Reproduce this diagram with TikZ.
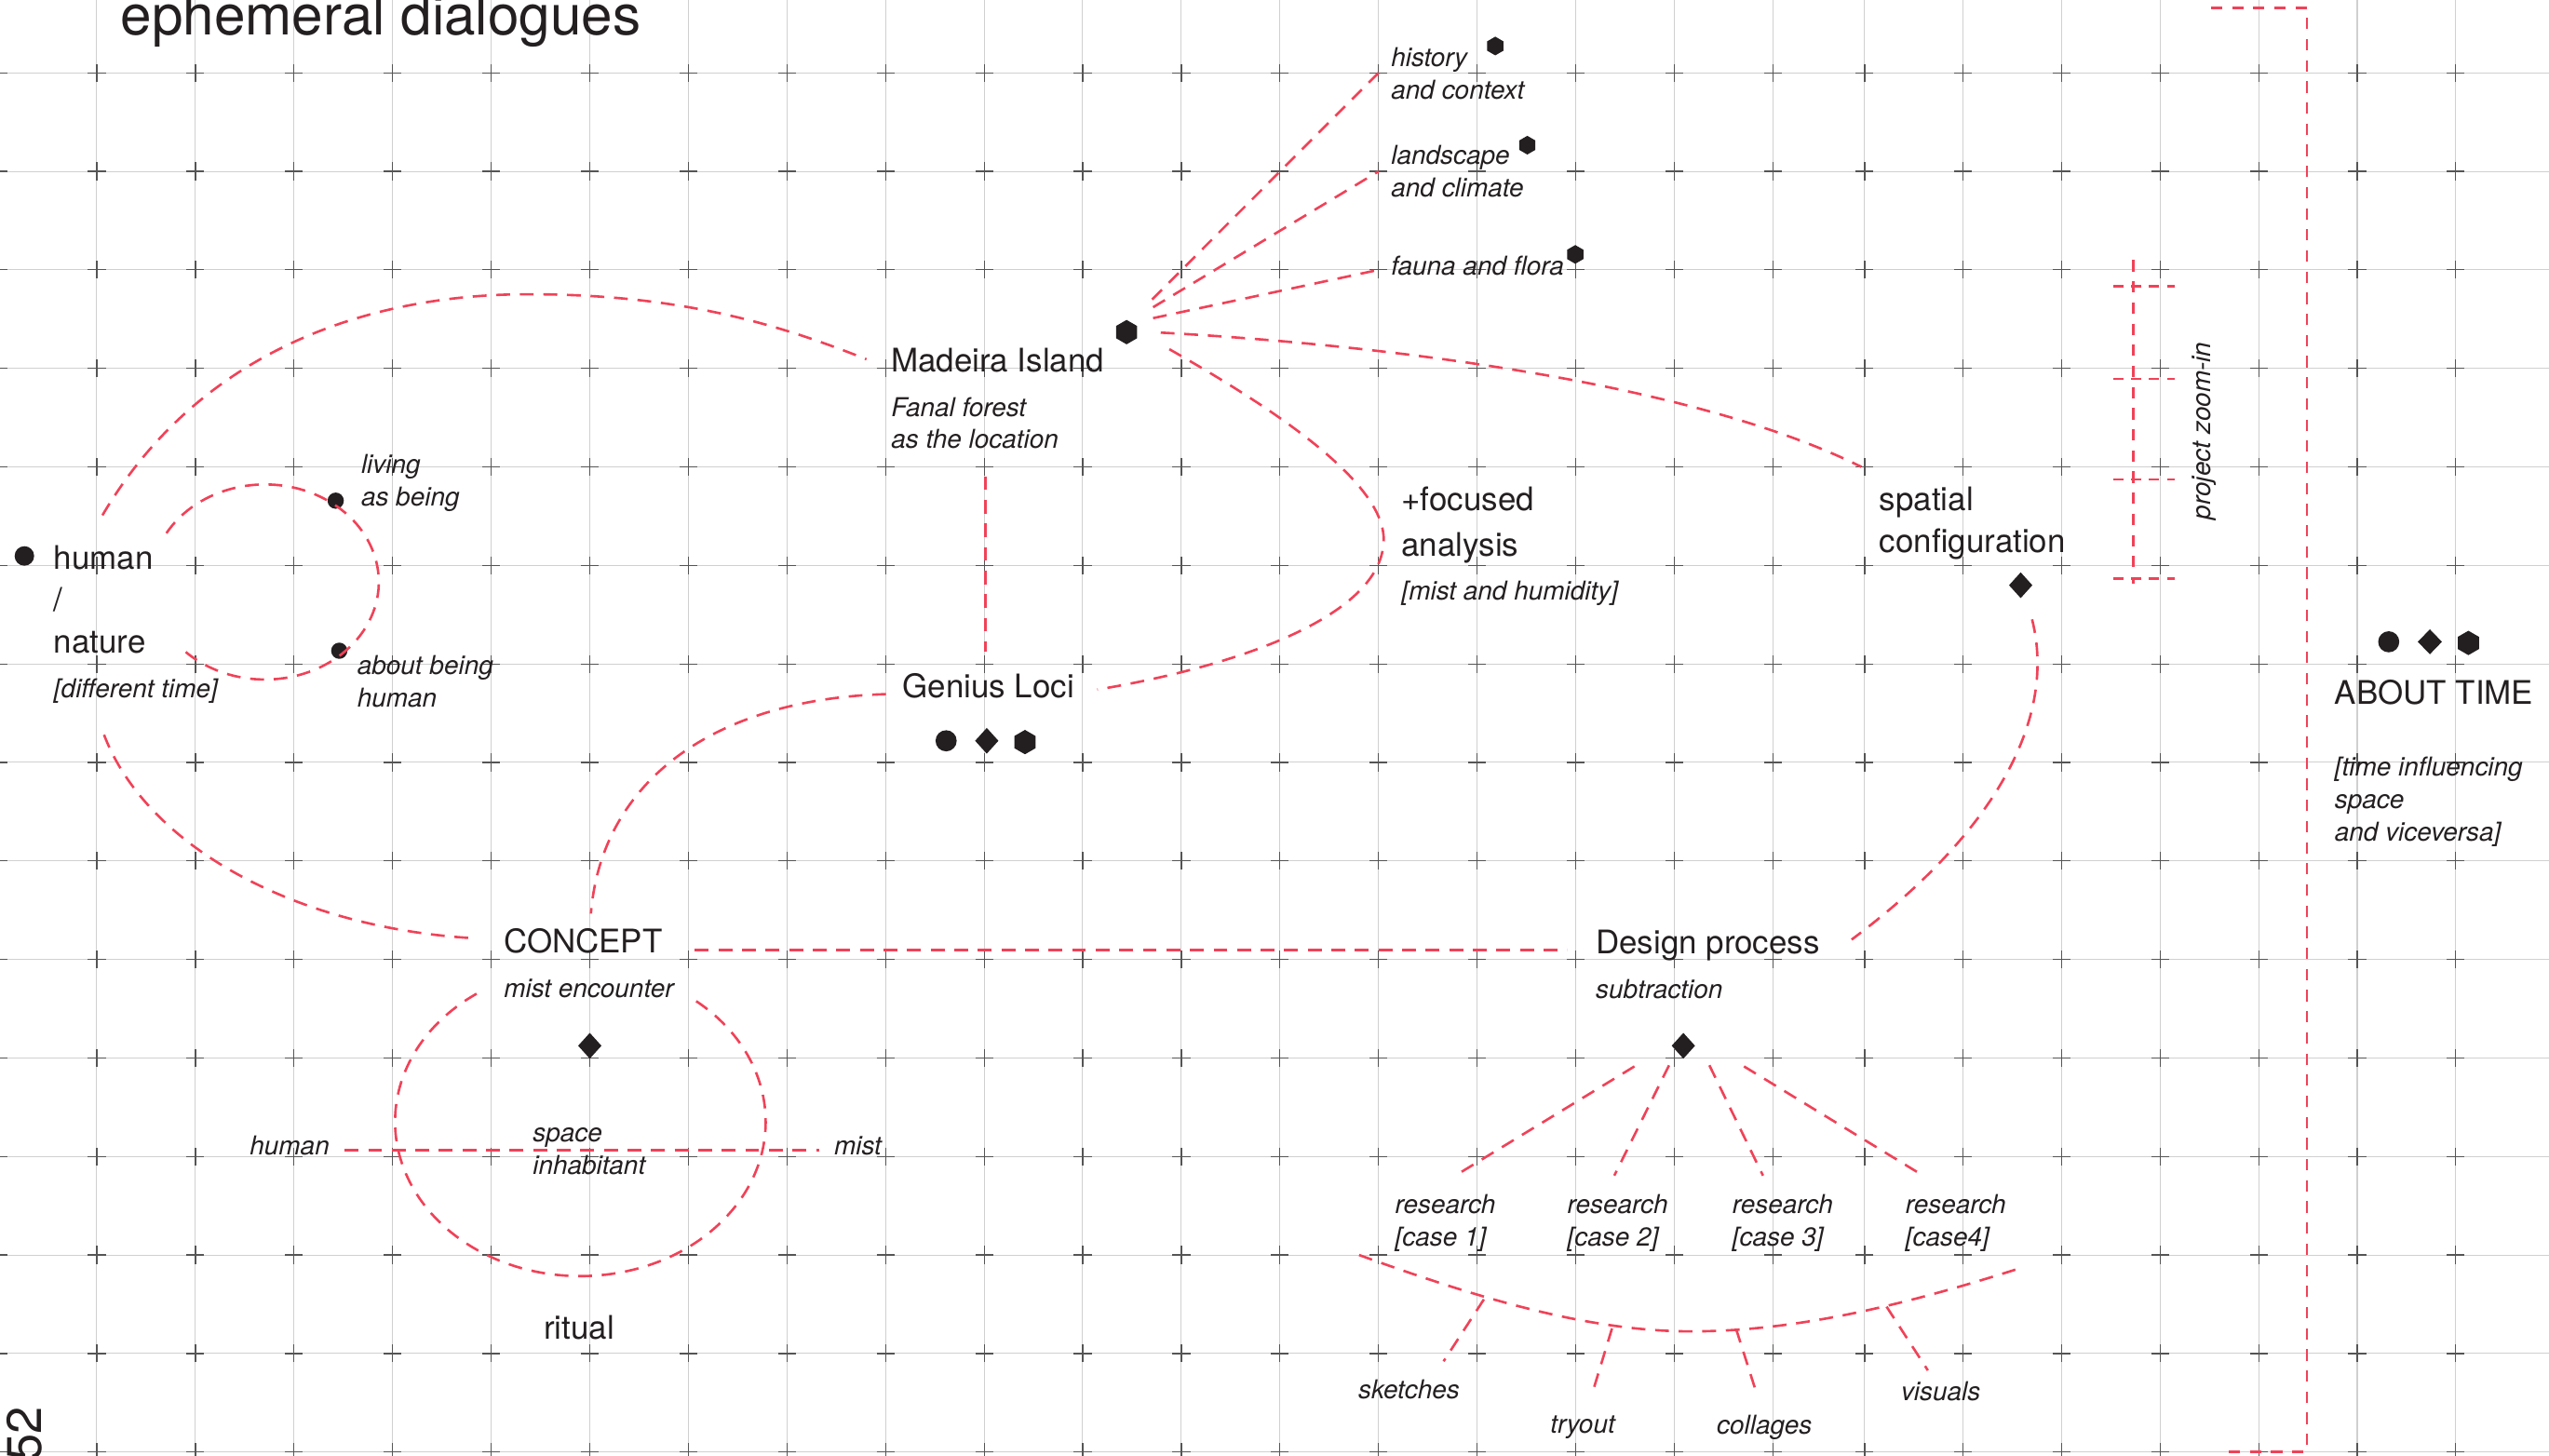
\documentclass[tikz,border=0pt]{standalone}
\usepackage{fontspec}
\setmainfont{TeX Gyre Heros}
\usetikzlibrary{shapes.geometric,calc}

\definecolor{mistred}{RGB}{240,66,88}
\definecolor{inkblack}{RGB}{35,31,32}
\definecolor{gridgray}{RGB}{208,208,208}
\definecolor{crossgray}{RGB}{85,85,85}

\tikzset{
  mist/.style={draw=mistred, line width=1.5pt, dash pattern=on 8.5pt off 6pt},
  gridline/.style={draw=gridgray, line width=0.6pt},
  gridcross/.style={draw=crossgray, line width=0.7pt},
  heading/.style={inner sep=0pt, text=inkblack, align=left, font=\fontsize{20}{26}\selectfont},
  note/.style={inner sep=0pt, text=inkblack, align=left, font=\itshape\fontsize{16}{20}\selectfont},
  dot/.style={circle, fill=inkblack, inner sep=0pt, minimum size=13pt},
  rhomb/.style={diamond, fill=inkblack, inner sep=0pt, minimum width=14.5pt, minimum height=16pt},
  hexa/.style={regular polygon, regular polygon sides=6, shape border rotate=30,
    fill=inkblack, inner sep=0pt, minimum size=15pt}
}

\begin{document}
\begin{tikzpicture}[x=1pt, y=-1pt]
  \useasboundingbox (0,0) rectangle (1568,895.1);
  \clip (0,0) rectangle (1568,895.1);

  % grid
  \foreach \gx in {-1,59.5,120.2,180.8,241.5,302.1,362.8,423.4,484.1,544.7,605.4,666.0,726.7,
      787.3,848.0,908.6,969.3,1029.9,1090.6,1147.0,1207.6,1268.2,1328.8,1389.4,1450.0,1510.6}
    \draw[gridline] (\gx,0) -- (\gx,895.1);
  \foreach \gy in {44.8,105.4,166.0,226.6,287.2,347.8,408.4,469.0,529.6,590.2,650.8,711.4,772.0,832.6,893.2}
    \draw[gridline] (0,\gy) -- (1568,\gy);
  \foreach \gx in {-1,59.5,120.2,180.8,241.5,302.1,362.8,423.4,484.1,544.7,605.4,666.0,726.7,
      787.3,848.0,908.6,969.3,1029.9,1090.6,1147.0,1207.6,1268.2,1328.8,1389.4,1450.0,1510.6}
    \foreach \gy in {44.8,105.4,166.0,226.6,287.2,347.8,408.4,469.0,529.6,590.2,650.8,711.4,772.0,832.6,893.2}
      \draw[gridcross] (\gx-5.5,\gy) -- (\gx+5.5,\gy) (\gx,\gy-5.5) -- (\gx,\gy+5.5);

  \node[heading, font=\fontsize{34.5}{40}\selectfont, anchor=base west] (title) at (74,21.4) {ephemeral dialogues};
  \node[heading, font=\fontsize{30}{30}\selectfont, rotate=90, anchor=base west] (pageno) at (25.6,899) {52};

  % human / nature (multi-line nodes sit on their last baseline)
  \node[dot, minimum size=12pt] (humandot) at (15,342) {};
  \node[heading, anchor=base west] (human) at (33,402) {human\\/\\nature};
  \node[note, anchor=base west] (difftime) at (33,429.5) {[different time]};
  \node[dot, minimum size=10pt] (livingdot) at (206.5,308) {};
  \node[note, anchor=base west] (living) at (222,311) {living\\as being};
  \node[dot, minimum size=10pt] (aboutdot) at (208.7,400.3) {};
  \node[note, anchor=base west] (about) at (219.6,435) {about being\\human};
  \coordinate (humanring) at (163,358);
  \draw[mist] (humanring) ++(210:70 and 60) arc[start angle=210, end angle=499, x radius=70, y radius=60];

  % Madeira Island
  \node[heading, anchor=base west] (madeira) at (548,228.5) {Madeira Island};
  \node[note, anchor=base west] (fanal) at (548,276) {Fanal forest\\as the location};
  \node[hexa] (madeirahex) at (693,204.3) {};
  \node[note, anchor=base west] (history) at (855.6,61) {history\\and context};
  \node[hexa, minimum size=11.5pt] (historyhex) at (919.8,28.3) {};
  \node[note, anchor=base west] (landscape) at (855.6,121.2) {landscape\\and climate};
  \node[hexa, minimum size=11.5pt] (landscapehex) at (939.5,89.3) {};
  \node[note, anchor=base west] (fauna) at (855.6,169.5) {fauna and flora};
  \node[hexa, minimum size=11.5pt] (faunahex) at (969,156.5) {};

  \node[heading, anchor=base west] (spatial) at (1156,340) {spatial\\configuration};
  \node[rhomb] (spatialrhomb) at (1243,360) {};
  \node[heading, anchor=base west, font=\fontsize{20}{28}\selectfont] (focused) at (862,342) {+focused\\analysis};
  \node[note, anchor=base west] (humidity) at (862,369) {[mist and humidity]};

  % Genius Loci
  \node[heading, anchor=base west] (genius) at (555,429.5) {Genius Loci};
  \node[dot] (geniusdot) at (582,455.7) {};
  \node[rhomb] (geniusrhomb) at (607,455.7) {};
  \node[hexa] (geniushex) at (630.5,456.5) {};

  % CONCEPT
  \node[heading, anchor=base west] (concept) at (309.8,586.4) {CONCEPT};
  \node[note, anchor=base west] (encounter) at (309.8,613.4) {mist encounter};
  \node[rhomb] (conceptrhomb) at (362.8,643.3) {};
  \node[note, anchor=base west] (humanside) at (153.5,710.4) {human};
  \node[note, anchor=base west] (mistside) at (513,710.4) {mist};
  \node[note, anchor=base west] (inhabitant) at (327.6,722.5) {space\\inhabitant};
  \node[heading, anchor=base west] (ritual) at (334.3,823.6) {ritual};
  \coordinate (conceptring) at (357,690);
  \draw[mist] (conceptring) ++(-51.3:114 and 95) arc[start angle=-51.3, end angle=236.7, x radius=114, y radius=95];

  % Design process
  \node[heading, anchor=base west] (design) at (981.5,586.6) {Design process};
  \node[note, anchor=base west] (subtraction) at (981.5,614) {subtraction};
  \node[rhomb] (designrhomb) at (1035.5,643.3) {};
  \node[note, anchor=base west] (caseA) at (858,766.7) {research\\{[case 1]}};
  \node[note, anchor=base west] (caseB) at (964,766.7) {research\\{[case 2]}};
  \node[note, anchor=base west] (caseC) at (1065.5,766.7) {research\\{[case 3]}};
  \node[note, anchor=base west] (caseD) at (1172,766.7) {research\\{[case4]}};
  \node[note, anchor=base west] (sketches) at (835.4,860.2) {sketches};
  \node[note, anchor=base west] (tryout) at (953.5,881.7) {tryout};
  \node[note, anchor=base west] (collages) at (1055.9,882.2) {collages};
  \node[note, anchor=base west] (visuals) at (1169.2,861.6) {visuals};

  % ABOUT TIME
  \node[dot] (timedot) at (1469.4,394.8) {};
  \node[rhomb, minimum width=15pt, minimum height=15.5pt] (timerhomb) at (1494.7,394.8) {};
  \node[hexa] (timehex) at (1518.4,395.5) {};
  \node[heading, anchor=base west] (abouttime) at (1436,433) {ABOUT TIME};
  \node[note, anchor=base west] (influence) at (1436,517.3) {[time influencing\\space\\and viceversa]};
  \node[note, rotate=90] (zoomin) at (1356,265) {project zoom-in};

  % connectors
  \coordinate (fanA) at (708.7,184.2);  \coordinate (historyend) at (848,44.8);
  \coordinate (fanB) at (709.3,189);    \coordinate (landscapeend) at (848,105.4);
  \coordinate (fanC) at (709.3,195.7);  \coordinate (faunaend) at (848,166);
  \coordinate (fanD) at (714,204.6);    \coordinate (spatialend) at (1145,287.2);
  \coordinate (fanE) at (719.3,214.8);  \coordinate (geniusE) at (675,424.2);
  \coordinate (fanaltop) at (606,293);  \coordinate (geniustop) at (606,401);
  \coordinate (humanN) at (63,317);     \coordinate (madeiraW) at (533,221);
  \coordinate (humanS) at (64,452);     \coordinate (conceptW) at (289,577);
  \coordinate (geniusW) at (545,427);   \coordinate (conceptN) at (363.5,562);
  \coordinate (conceptE) at (427.5,584.5); \coordinate (designW) at (964,584.5);
  \coordinate (spatialS) at (1250,381); \coordinate (designE) at (1139,578);
  \coordinate (humanE) at (212,707.5);  \coordinate (mistW) at (504,707.5);

  \draw[mist] (fanA) -- (historyend);
  \draw[mist] (fanB) -- (landscapeend);
  \draw[mist] (fanC) -- (faunaend);
  \draw[mist] (fanD) .. controls (850,212) and (1040,235) .. (spatialend);
  \draw[mist] (fanE) .. controls (790,255) and (855,300) .. (851,335)
                     .. controls (847,380) and (760,410) .. (geniusE);
  \draw[mist] (fanaltop) -- (geniustop);
  \draw[mist] (humanN) .. controls (120,220) and (220,181) .. (325,181)
                       .. controls (420,181) and (480,200) .. (madeiraW);
  \draw[mist] (humanS) .. controls (90,520) and (180,570) .. (conceptW);
  \draw[mist] (geniusW) .. controls (440,430) and (370,480) .. (conceptN);
  \draw[mist] (conceptE) -- (designW);
  \draw[mist] (spatialS) .. controls (1265,440) and (1230,510) .. (designE);
  \draw[mist] (humanE) -- (mistW);

  \coordinate (rayA) at (1005.4,656);   \coordinate (caseAtop) at (895.2,723.2);
  \coordinate (rayB) at (1026.7,655.3); \coordinate (caseBtop) at (993,723.2);
  \coordinate (rayC) at (1051.5,655.3); \coordinate (caseCtop) at (1084.5,723.2);
  \coordinate (rayD) at (1072.8,656);   \coordinate (caseDtop) at (1183,723.2);
  \draw[mist] (rayA) -- (caseAtop);
  \draw[mist] (rayB) -- (caseBtop);
  \draw[mist] (rayC) -- (caseCtop);
  \draw[mist] (rayD) -- (caseDtop);

  \coordinate (smileW) at (836,772);    \coordinate (smileE) at (1243,780);
  \draw[mist] (smileW) .. controls (905,797) and (975,819) .. (1040,819)
                       .. controls (1110,819) and (1180,800) .. (smileE);
  \coordinate (tickA) at (912.8,799.3);  \coordinate (sketchesN) at (888,837.4);
  \coordinate (tickB) at (991.6,817.2);  \coordinate (tryoutN) at (979.3,857.6);
  \coordinate (tickC) at (1068,817.7);   \coordinate (collagesN) at (1080.7,857.6);
  \coordinate (tickD) at (1160.5,803.8); \coordinate (visualsN) at (1185.9,843);
  \draw[mist] (tickA) -- (sketchesN);
  \draw[mist] (tickB) -- (tryoutN);
  \draw[mist] (tickC) -- (collagesN);
  \draw[mist] (tickD) -- (visualsN);

  % brackets
  \coordinate (zoomtop) at (1312.4,160); \coordinate (zoombot) at (1312.4,359);
  \draw[mist, dash pattern=on 7pt off 6pt] (zoomtop) -- (zoombot);
  \foreach \ty in {176,233,295,356}
    \draw[mist, dash pattern=on 6pt off 5pt] (1300,\ty) -- (1338,\ty);
  \draw[mist, dash pattern=on 7pt off 6pt] (1360,5) -- (1419,5) -- (1419,893) -- (1368,893);
\end{tikzpicture}
\end{document}
